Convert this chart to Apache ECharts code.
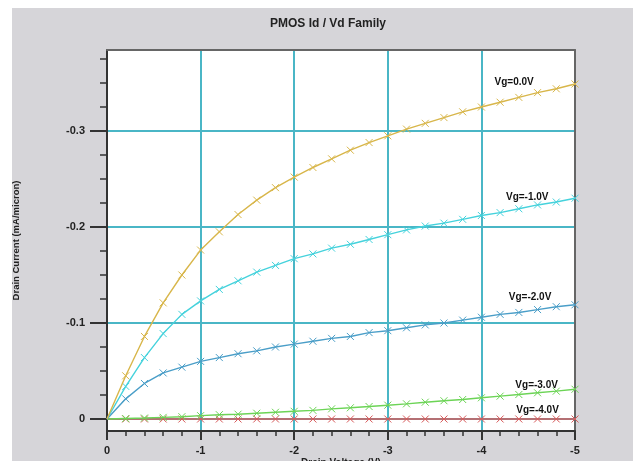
<!DOCTYPE html>
<html><head><meta charset="utf-8">
<script src="https://cdn.jsdelivr.net/npm/echarts@6/dist/echarts.min.js"></script>
<style>html,body{margin:0;padding:0;background:#fff}#c{width:633px;height:461px}</style>
</head><body><div id="c"></div>
<script>
// ---- data ----
const drainVoltage = [0, -0.2, -0.4, -0.6, -0.8, -1.0, -1.2, -1.4, -1.6, -1.8, -2.0, -2.2, -2.4, -2.6, -2.8, -3.0, -3.2, -3.4, -3.6, -3.8, -4.0, -4.2, -4.4, -4.6, -4.8, -5.0];
const idVg0 = [0, -0.045, -0.086, -0.121, -0.150, -0.176, -0.195, -0.213, -0.228, -0.241, -0.252, -0.262, -0.271, -0.280, -0.288, -0.295, -0.302, -0.308, -0.314, -0.320, -0.325, -0.330, -0.335, -0.340, -0.344, -0.349];
const idVg1 = [0, -0.034, -0.064, -0.089, -0.109, -0.123, -0.135, -0.144, -0.153, -0.160, -0.167, -0.172, -0.178, -0.182, -0.187, -0.192, -0.197, -0.201, -0.204, -0.208, -0.212, -0.215, -0.219, -0.223, -0.226, -0.230];
const idVg2 = [0, -0.021, -0.037, -0.048, -0.054, -0.060, -0.064, -0.068, -0.071, -0.075, -0.078, -0.081, -0.084, -0.086, -0.090, -0.092, -0.095, -0.098, -0.100, -0.103, -0.106, -0.109, -0.111, -0.114, -0.117, -0.119];
const idVg3 = [0, -0.0005, -0.001, -0.0017, -0.0024, -0.0035, -0.0045, -0.005, -0.006, -0.007, -0.008, -0.009, -0.0106, -0.0117, -0.013, -0.0144, -0.0158, -0.0175, -0.019, -0.0203, -0.0221, -0.0238, -0.0255, -0.0273, -0.029, -0.031];
const idVg4 = [0, 0, 0, 0, 0, 0, 0, 0, 0, 0, 0, 0, 0, 0, 0, 0, 0, 0, 0, 0, 0, 0, 0, 0, 0, 0];
const seriesNames = ['Vg=0.0V', 'Vg=-1.0V', 'Vg=-2.0V', 'Vg=-3.0V', 'Vg=-4.0V'];
const yMajorTicks = [-0.3, -0.2, -0.1, 0];
const yTickLabels = ['-0.3', '-0.2', '-0.1', '0'];
const yMinorTicks = [-0.375, -0.35, -0.325, -0.275, -0.25, -0.225, -0.175, -0.15, -0.125, -0.075, -0.05, -0.025];
const titleText = 'PMOS Id / Vd Family';
const xAxisTitle = 'Drain Voltage (V)';
const yAxisTitle = 'Drain Current (mA/micron)';

// ---- presentation ----
const FONT = "'Liberation Sans', Arial, sans-serif";
const colors = ['#d8b64a', '#45d2dc', '#4a9ec8', '#6cd456', '#d85a5a'];
const labelAnchors = [[-4.35, -0.351], [-4.49, -0.231], [-4.52, -0.127], [-4.59, -0.035], [-4.60, -0.009]];
const gridColor = '#4ab6c6';
const cross = 'path://M0,0L10,10M10,0L0,10';
const allSeries = [idVg0, idVg1, idVg2, idVg3, idVg4];
const Y_MIN = -0.3844, Y_MAX = 0.0125;

function near(list, v) { return list.findIndex(t => Math.abs(t - v) < 1e-9); }

const series = allSeries.map((ys, k) => ({
  type: 'line',
  name: seriesNames[k],
  xAxisIndex: 0, yAxisIndex: 0,
  data: drainVoltage.map((x, i) => [x, ys[i]]),
  lineStyle: { color: colors[k], width: 1.4 },
  symbol: (v, p) => (p.dataIndex === 0 ? 'none' : cross),
  symbolSize: 7,
  itemStyle: { color: 'rgba(0,0,0,0)', borderColor: colors[k], borderWidth: 1 },
  z: 5 - k + 2,
  markPoint: {
    symbol: 'rect', symbolSize: 0, silent: true, animation: false,
    data: [{ coord: labelAnchors[k], value: seriesNames[k] }],
    label: { show: true, position: 'inside', formatter: seriesNames[k], color: '#111', fontWeight: 'bold', fontSize: 10, fontFamily: FONT }
  },
  animation: false
}));

const chart = echarts.init(document.getElementById('c'), null, { renderer: 'canvas' });
chart.setOption({
  animation: false,
  backgroundColor: '#d6d5d9',
  graphic: [
    { type: 'rect', shape: { x: 0, y: 0, width: 12, height: 461 }, style: { fill: '#fff' }, z: -10, silent: true },
    { type: 'rect', shape: { x: 0, y: 0, width: 633, height: 8 }, style: { fill: '#fff' }, z: -10, silent: true }
  ],
  title: {
    text: titleText, left: 323, top: 13, textAlign: 'center',
    textStyle: { fontSize: 12, fontWeight: 'bold', color: '#222', fontFamily: FONT }
  },
  grid: { left: 107, right: 58, top: 50, bottom: 30, show: true, backgroundColor: '#fff', borderWidth: 0, outerBoundsMode: 'none' },
  xAxis: [
    {
      type: 'value', inverse: true, min: -5, max: 0, interval: 1, position: 'bottom',
      axisLine: { show: true, onZero: false, lineStyle: { color: '#333', width: 2 } },
      axisTick: { show: true, length: 9, lineStyle: { color: '#333', width: 2 } },
      minorTick: { show: true, splitNumber: 5, length: 5, lineStyle: { color: '#333', width: 1.5 } },
      splitLine: { show: true, lineStyle: { color: gridColor, width: 2 } },
      axisLabel: { margin: 14, fontSize: 11, fontWeight: 'bold', color: '#222', fontFamily: FONT },
      name: xAxisTitle, nameLocation: 'middle', nameGap: 27, nameMoveOverlap: false,
      nameTextStyle: { fontSize: 10, fontWeight: 'bold', color: '#222', fontFamily: FONT }
    },
    {
      type: 'value', inverse: true, min: -5, max: 0, position: 'top',
      axisLine: { show: true, onZero: false, lineStyle: { color: '#666', width: 2 } },
      axisTick: { show: false }, axisLabel: { show: false }, splitLine: { show: false }
    }
  ],
  yAxis: [
    {
      type: 'value', inverse: true, min: Y_MIN, max: Y_MAX, position: 'left',
      axisLine: { show: true, onZero: false, lineStyle: { color: '#333', width: 2 } },
      axisTick: { show: true, customValues: yMajorTicks, length: 17, lineStyle: { color: '#333', width: 2 } },
      axisLabel: {
        customValues: yMajorTicks, margin: 22, fontSize: 11, fontWeight: 'bold', color: '#222', fontFamily: FONT,
        formatter: v => { const i = near(yMajorTicks, v); return i >= 0 ? yTickLabels[i] : ''; }
      },
      splitLine: { show: true, lineStyle: { color: gridColor, width: 2 } },
      name: yAxisTitle, nameLocation: 'middle', nameGap: 86, nameMoveOverlap: false,
      nameTextStyle: { fontSize: 9.5, fontWeight: 'bold', color: '#222', fontFamily: FONT }
    },
    {
      type: 'value', inverse: true, min: Y_MIN, max: Y_MAX, position: 'left',
      axisLine: { show: false },
      axisTick: { show: true, customValues: yMinorTicks, length: 7, lineStyle: { color: '#333', width: 1.5 } },
      axisLabel: { show: false }, splitLine: { show: false }
    },
    {
      type: 'value', inverse: true, min: Y_MIN, max: Y_MAX, position: 'right',
      axisLine: { show: true, onZero: false, lineStyle: { color: '#666', width: 2 } },
      axisTick: { show: false }, axisLabel: { show: false }, splitLine: { show: false }
    }
  ],
  series: series
});
</script>
</body></html>
